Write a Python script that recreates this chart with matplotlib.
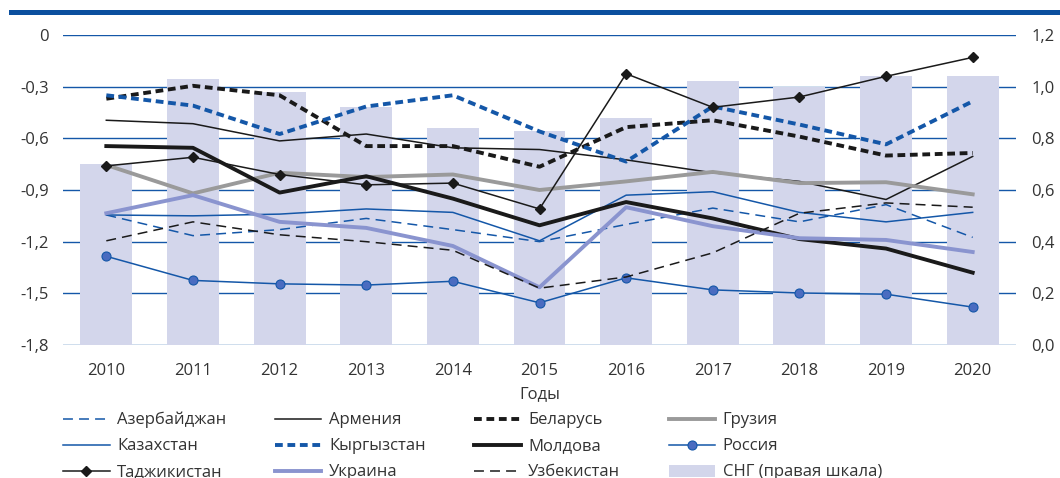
import numpy as np
import matplotlib
matplotlib.use('Agg')
import matplotlib.pyplot as plt
from matplotlib.patches import Rectangle

plt.rcParams['font.family'] = ['Open Sans', 'DejaVu Sans']

years = [2010, 2011, 2012, 2013, 2014, 2015, 2016, 2017, 2018, 2019, 2020]

# CIS, right scale
cis = [0.70, 1.03, 0.98, 0.92, 0.84, 0.83, 0.88, 1.02, 1.00, 1.04, 1.04]

azerbaijan = [-1.045, -1.165, -1.13, -1.065, -1.13, -1.20, -1.10, -1.005, -1.085, -0.985, -1.175]
armenia    = [-0.495, -0.515, -0.615, -0.575, -0.655, -0.665, -0.725, -0.80, -0.85, -0.955, -0.705]
belarus    = [-0.37, -0.295, -0.35, -0.645, -0.645, -0.765, -0.535, -0.495, -0.59, -0.70, -0.685]
georgia    = [-0.755, -0.92, -0.80, -0.825, -0.81, -0.90, -0.85, -0.795, -0.86, -0.855, -0.925]
kazakhstan = [-1.045, -1.05, -1.04, -1.01, -1.03, -1.195, -0.93, -0.91, -1.03, -1.085, -1.03]
kyrgyzstan = [-0.35, -0.41, -0.575, -0.415, -0.35, -0.56, -0.735, -0.415, -0.52, -0.635, -0.385]
moldova    = [-0.645, -0.655, -0.915, -0.82, -0.95, -1.105, -0.97, -1.065, -1.185, -1.24, -1.38]
russia     = [-1.285, -1.425, -1.445, -1.452, -1.43, -1.555, -1.41, -1.48, -1.498, -1.505, -1.58]
tajikistan = [-0.76, -0.71, -0.81, -0.87, -0.86, -1.01, -0.225, -0.42, -0.36, -0.24, -0.13]
ukraine    = [-1.035, -0.93, -1.085, -1.12, -1.225, -1.465, -1.00, -1.11, -1.18, -1.19, -1.26]
uzbekistan = [-1.195, -1.085, -1.16, -1.20, -1.25, -1.47, -1.405, -1.265, -1.035, -0.975, -1.0]

left_ticks = [0, -0.3, -0.6, -0.9, -1.2, -1.5, -1.8]
left_labels = ['0', '-0,3', '-0,6', '-0,9', '-1,2', '-1,5', '-1,8']
right_ticks = [0.0, 0.2, 0.4, 0.6, 0.8, 1.0, 1.2]
right_labels = ['0,0', '0,2', '0,4', '0,6', '0,8', '1,0', '1,2']

blue = '#1457a8'
txt = '#333333'

fig = plt.figure(figsize=(10.6, 4.78), dpi=100)

# top blue rule
fig.add_artist(Rectangle((9 / 1060, 1 - 15 / 478), 1 - 9 / 1060, 5 / 478,
                         transform=fig.transFigure, color='#0b4f9e', lw=0))

ax = fig.add_axes([63 / 1060, 1 - 345 / 478, 953 / 1060, 310 / 478])
ax2 = ax.twinx()

x = np.arange(len(years))
bars = ax.bar(x, cis, width=0.6, color='#d3d6eb', zorder=2, label='СНГ (правая шкала)')
ax.set_ylim(0, 1.2)
ax.set_xlim(-0.5, len(years) - 0.5)
ax.yaxis.tick_right()
ax.set_yticks(right_ticks)
ax.set_yticklabels(right_labels)
ax.grid(True, axis='y', color=blue, lw=1.0, zorder=0)
ax.set_axisbelow(True)
ax.set_xticks(x)
ax.set_xticklabels([str(y) for y in years])
ax.tick_params(axis='both', length=0, labelsize=12, colors=txt)
ax.tick_params(axis='y', pad=11)
ax.tick_params(axis='x', pad=13)
for s in ax.spines.values():
    s.set_visible(False)
ax.set_xlabel('Годы', fontsize=12, color=txt, labelpad=5)

ax2.set_ylim(-1.8, 0)
ax2.yaxis.tick_left()
ax2.set_yticks(left_ticks)
ax2.set_yticklabels(left_labels)
ax2.tick_params(axis='y', length=0, labelsize=12, colors=txt, pad=10)
for s in ax2.spines.values():
    s.set_visible(False)

h = {}
h['az'], = ax2.plot(x, azerbaijan, color=blue, lw=1.1, ls=(0, (6.5, 4)), label='Азербайджан')
h['arm'], = ax2.plot(x, armenia, color='#1a1a1a', lw=1.1, label='Армения')
h['bel'], = ax2.plot(x, belarus, color='#1a1a1a', lw=2.8, ls=(0, (2, 1.2)), label='Беларусь')
h['geo'], = ax2.plot(x, georgia, color='#9a9a9a', lw=2.8, label='Грузия')
h['kaz'], = ax2.plot(x, kazakhstan, color=blue, lw=1.1, label='Казахстан')
h['kyr'], = ax2.plot(x, kyrgyzstan, color=blue, lw=2.8, ls=(0, (2, 1.2)), label='Кыргызстан')
h['mol'], = ax2.plot(x, moldova, color='#1a1a1a', lw=2.8, label='Молдова')
h['rus'], = ax2.plot(x, russia, color=blue, lw=1.1, marker='o', markersize=6.5,
                     markerfacecolor='#4a6cc0', markeredgecolor=blue, markeredgewidth=0.8,
                     label='Россия')
h['taj'], = ax2.plot(x, tajikistan, color='#1a1a1a', lw=1.1, marker='D', markersize=5.5,
                     label='Таджикистан')
h['ukr'], = ax2.plot(x, ukraine, color='#8a94cf', lw=2.8, label='Украина')
h['uzb'], = ax2.plot(x, uzbekistan, color='#1a1a1a', lw=1.1, ls=(0, (6.5, 4)), label='Узбекистан')

# legend is filled column by column
order = [h['az'], h['kaz'], h['taj'],
         h['arm'], h['kyr'], h['ukr'],
         h['bel'], h['mol'], h['uzb'],
         h['geo'], h['rus'], bars]
fig.legend(order, [o.get_label() for o in order], ncol=4, loc='upper left',
           bbox_to_anchor=(63 / 1060, 1 - 412 / 478), frameon=False, fontsize=12,
           handlelength=2.8, handletextpad=0.45, columnspacing=2.9, labelspacing=0.6,
           borderpad=0, borderaxespad=0, numpoints=1, labelcolor=txt)

plt.savefig('out.png', dpi=100)
